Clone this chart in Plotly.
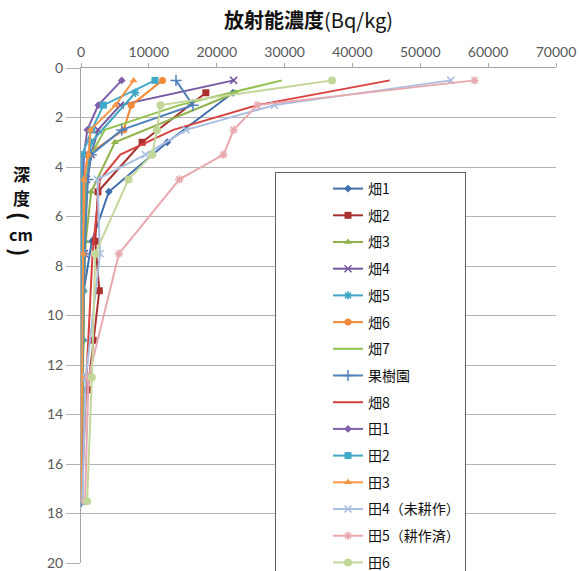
import plotly.graph_objects as go

# Sampling depths (cm)
depth_half = [0.5, 1.5, 2.5, 3.5, 4.5, 7.5, 12.5, 17.5]
depth_odd = [1, 3, 5, 7, 9, 11, 13]

series_names = ["畑1", "畑2", "畑3", "畑4", "畑5", "畑6", "畑7", "果樹園", "畑8",
                "田1", "田2", "田3", "田4（未耕作）", "田5（耕作済）", "田6"]

# Radioactivity concentration (Bq/kg) per site
hata1 = [22400, 12700, 4100, 1600, 400, 350, 100]
hata2 = [18400, 9000, 2500, 2100, 2700, 1800, 1000]
hata3 = [22800, 5000, 1500, 700, 400, 200, 100]
hata4 = [22500, 5800, 2500, 1500, 800, 500, 200, 100]
hata5 = [8000, 1500, 600, 300, 200, 100, 50]
hata6 = [12000, 7400, 6300, 1000, 500, 300, 100, 50]
hata7 = [29600, 14500, 3500, 1500, 900, 500, 300, 200]
kajuen = [14000, 16500, 6000, 1500, 1000, 500, 200, 100]
hata8 = [45500, 26000, 13600, 5800, 2800, 1700, 800, 100]
ta1 = [6000, 2550, 930, 440, 300, 200, 100, 0]
ta2 = [10900, 3300, 1600, 200, 100, 100, 50, 0]
ta3 = [7750, 5100, 1400, 1100, 400, 300, 100, 0]
ta4 = [54500, 28500, 15500, 9500, 2400, 2800, 700, 200]
ta5 = [58000, 26000, 22500, 21000, 14500, 5600, 1100, 600]
ta6 = [37000, 11700, 11200, 10500, 7000, 2100, 1600, 900]

values = [hata1, hata2, hata3, hata4, hata5, hata6, hata7, kajuen, hata8,
          ta1, ta2, ta3, ta4, ta5, ta6]
depths = [depth_odd, depth_odd, depth_odd, depth_half, depth_odd, depth_half,
          depth_half, depth_half, depth_half, depth_half, depth_half, depth_half,
          depth_half, depth_half, depth_half]

colors = ["#3F6DAE", "#A9312F", "#8FB24C", "#7458A0", "#3FA6C4", "#F28A3A",
          "#92C24F", "#4F81BD", "#D8403E", "#7F5FA8", "#40A8C8", "#F79646",
          "#A9BEE0", "#E8A9AE", "#C4D79B"]
symbols = ["diamond", "square", "triangle-up", "x-thin", "asterisk", "circle",
           "line-ew", "cross-thin", "line-ew", "diamond", "square", "triangle-up",
           "x-thin", "asterisk", "circle"]
msizes = [6, 7, 7, 7, 7, 7, 0, 8, 0, 6, 7, 7, 7, 7, 8]

W, H = 579, 571
ML, MR, MT, MB = 81, 23, 68, 8
PW, PH = W - ML - MR, H - MT - MB


def px_x(px):
    return (px - ML) / PW


def px_y(py):
    return 1 - (py - MT) / PH


fig = go.Figure()
for name, vals, dep, col, sym, ms in zip(series_names, values, depths, colors, symbols, msizes):
    thin = sym in ("x-thin", "cross-thin", "asterisk", "line-ew")
    fig.add_trace(go.Scatter(
        x=vals, y=dep[:len(vals)], name=name, legendgroup=name,
        mode="lines+markers" if ms else "lines",
        line=dict(color=col, width=2),
        marker=dict(symbol=sym, size=ms, color=col,
                    line=dict(color=col, width=1.5 if thin else 0)),
    ))

axis_font = dict(family="Lato, Liberation Sans, sans-serif", size=14, color="#595959")

fig.update_layout(
    width=W, height=H,
    margin=dict(l=ML, r=MR, t=MT, b=MB, autoexpand=False),
    paper_bgcolor="white", plot_bgcolor="white",
    showlegend=True,
    xaxis=dict(side="top", range=[0, 70000], dtick=10000, tickformat="d",
               showgrid=False, zeroline=False, showline=True, linecolor="#A6A6A6",
               ticks="outside", ticklen=4, tickcolor="#A6A6A6", tickfont=axis_font),
    yaxis=dict(range=[20, 0], dtick=2, showgrid=True, gridcolor="#B3B3B3", gridwidth=1,
               zeroline=False, showline=True, linecolor="#A6A6A6",
               ticks="outside", ticklen=14, tickcolor="#B3B3B3", tickfont=axis_font),
    legend=dict(x=px_x(275), y=px_y(172), xanchor="left", yanchor="top",
                bgcolor="white", bordercolor="#606060", borderwidth=1,
                font=dict(family="Noto Sans CJK JP", size=14, color="#111111"),
                tracegroupgap=5.5, indentation=52, maxheight=700,
                entrywidth=243, entrywidthmode="pixels"),
)

fig.add_annotation(text="<b>放射能濃度</b>(Bq/kg)", xref="paper", yref="paper",
                   x=px_x(308), y=px_y(19), xanchor="center", yanchor="middle",
                   showarrow=False,
                   font=dict(family="Noto Sans CJK JP", size=20, color="#111111"))

# Vertical axis title, one glyph per row (parentheses turned sideways)
for txt, py, ang, size in [("深", 173, 0, 17), ("度", 197, 0, 17), ("(", 216, 90, 22),
                           ("cm", 234, 0, 16), (")", 252, 90, 22)]:
    fig.add_annotation(text="<b>%s</b>" % txt, xref="paper", yref="paper",
                       x=px_x(21), y=px_y(py), xanchor="center", yanchor="middle",
                       showarrow=False, textangle=ang,
                       font=dict(family="Noto Sans CJK JP", size=size, color="#111111"))

fig.write_html("out.html")
